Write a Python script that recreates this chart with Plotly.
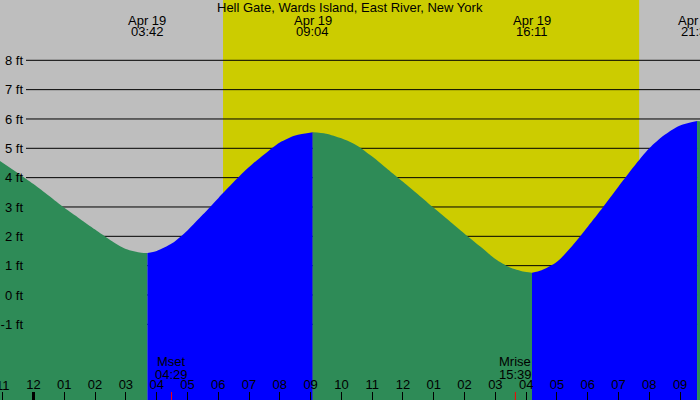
import plotly.graph_objects as go

# ---- data (hours after midnight, Apr 19; heights in ft) ----
fall1_t = [-1.09, -0.5, 0.0, 0.5, 1.0, 1.5, 2.0, 2.5, 3.0, 3.5, 3.70]
fall1_h = [4.57, 4.15, 3.78, 3.38, 2.97, 2.6, 2.23, 1.87, 1.57, 1.44, 1.43]
rise1_t = [3.70, 4.0, 4.5, 5.0, 5.5, 6.0, 6.5, 7.0, 7.5, 8.0, 8.5, 9.07]
rise1_h = [1.43, 1.5, 1.76, 2.2, 2.74, 3.3, 3.85, 4.36, 4.8, 5.2, 5.44, 5.55]
fall2_t = [9.07, 9.5, 10.0, 10.5, 11.0, 11.5, 12.0, 12.5, 13.0, 13.5, 14.0, 14.5, 15.0, 15.5, 16.0, 16.19]
fall2_h = [5.55, 5.5, 5.34, 5.1, 4.72, 4.29, 3.86, 3.42, 2.97, 2.53, 2.09, 1.66, 1.23, 0.93, 0.78, 0.76]
rise2_t = [16.19, 16.5, 17.0, 17.5, 18.0, 18.5, 19.0, 19.5, 20.0, 20.5, 21.0, 21.55]
rise2_h = [0.76, 0.84, 1.13, 1.68, 2.33, 3.0, 3.7, 4.38, 5.0, 5.46, 5.78, 5.93]
fall3_t = [21.55, 21.65]
fall3_h = [5.93, 5.92]

extreme_t = [3.70, 9.067, 16.183, 21.55]
extreme_date = ["Apr 19", "Apr 19", "Apr 19", "Apr 19"]
extreme_time = ["03:42", "09:04", "16:11", "21:33"]

moon_t = [4.483, 15.65]
moon_name = ["Mset", "Mrise"]
moon_time = ["04:29", "15:39"]

sunrise_t = 6.155
sunset_t = 19.67
midnight_t = [0]

hour_vals = list(range(-1, 22))
hour_text = ["11", "12", "01", "02", "03", "04", "05", "06", "07", "08", "09", "10",
             "11", "12", "01", "02", "03", "04", "05", "06", "07", "08", "09"]
ft_vals = [-1, 0, 1, 2, 3, 4, 5, 6, 7, 8]
ft_text = [f"{v} ft" for v in ft_vals]

title = "Hell Gate, Wards Island, East River, New York"

X_RANGE = [-1.088, 21.646]
Y_RANGE = [-3.58, 10.056]

GREEN = "#2E8B57"
BLUE = "#0000FF"
GREY = "#BEBEBE"
YELLOW = "#CCCC00"
FONT = "Liberation Sans"
FS = 13

fig = go.Figure()
segments = [
    (fall1_t, fall1_h, GREEN),
    (rise1_t, rise1_h, BLUE),
    (fall2_t, fall2_h, GREEN),
    (rise2_t, rise2_h, BLUE),
    (fall3_t, fall3_h, GREEN),
]
for t, h, c in segments:
    fig.add_trace(go.Scatter(x=[t[0], t[-1]], y=[Y_RANGE[0]] * 2, mode="lines",
                             line=dict(width=0), hoverinfo="skip", showlegend=False))
    fig.add_trace(go.Scatter(x=t, y=h, mode="lines", fill="tonexty", fillcolor=c,
                             line=dict(width=0, shape="spline", smoothing=0.8, color=c),
                             hoverinfo="skip", showlegend=False))

shapes = []
shapes.append(dict(type="rect", xref="x", yref="paper", x0=sunrise_t, x1=sunset_t,
                   y0=0, y1=1, fillcolor=YELLOW, line=dict(width=0), layer="below"))
for v in ft_vals:
    shapes.append(dict(type="line", xref="paper", yref="y", x0=26 / 700, x1=1, y0=v, y1=v,
                       line=dict(color="black", width=1), layer="between"))
for t in midnight_t:
    shapes.append(dict(type="line", xref="x", yref="paper", x0=t, x1=t, y0=0, y1=8 / 400,
                       line=dict(color="black", width=3), layer="above"))
for t in moon_t:
    shapes.append(dict(type="line", xref="x", yref="paper", x0=t, x1=t, y0=0, y1=8 / 400,
                       line=dict(color="#FF0000", width=1), layer="above"))

def txt(text, x, xref, ypx):
    return dict(text=text, x=x, xref=xref, y=1 - ypx / 400, yref="paper", showarrow=False,
                xanchor="center", yanchor="middle",
                font=dict(family=FONT, size=FS, color="black"))

ann = [txt(title, 0.5, "paper", 7.5)]
for t, d, tm in zip(extreme_t, extreme_date, extreme_time):
    ann.append(txt(d, t, "x", 20))
    ann.append(txt(tm, t, "x", 32))
for t, n, tm in zip(moon_t, moon_name, moon_time):
    ann.append(txt(n, t, "x", 361.5))
    ann.append(txt(tm, t, "x", 374))
# first hour label, partly beyond the left edge (plotly hides it as a tick label)
ann.append(txt(hour_text[0], hour_vals[0], "x", 385.5))

fig.update_layout(
    width=700, height=400,
    margin=dict(l=0, r=0, t=0, b=0),
    plot_bgcolor=GREY, paper_bgcolor=GREY,
    shapes=shapes, annotations=ann,
    showlegend=False,
    xaxis=dict(range=X_RANGE, tickvals=hour_vals, ticktext=hour_text,
               ticks="inside", ticklen=8, tickwidth=1, tickcolor="black",
               ticklabelposition="inside", showgrid=False, zeroline=False,
               showline=False, fixedrange=True,
               tickfont=dict(family=FONT, size=FS, color="black")),
    yaxis=dict(range=Y_RANGE, tickvals=ft_vals, ticktext=ft_text,
               anchor="free", position=23 / 700, automargin=False,
               ticks="", showgrid=False, zeroline=False, showline=False,
               fixedrange=True,
               tickfont=dict(family=FONT, size=FS, color="black")),
)

fig.write_html("out.html", config={"displayModeBar": False},
               post_script="document.body.style.margin='0';document.body.style.overflow='hidden';")
